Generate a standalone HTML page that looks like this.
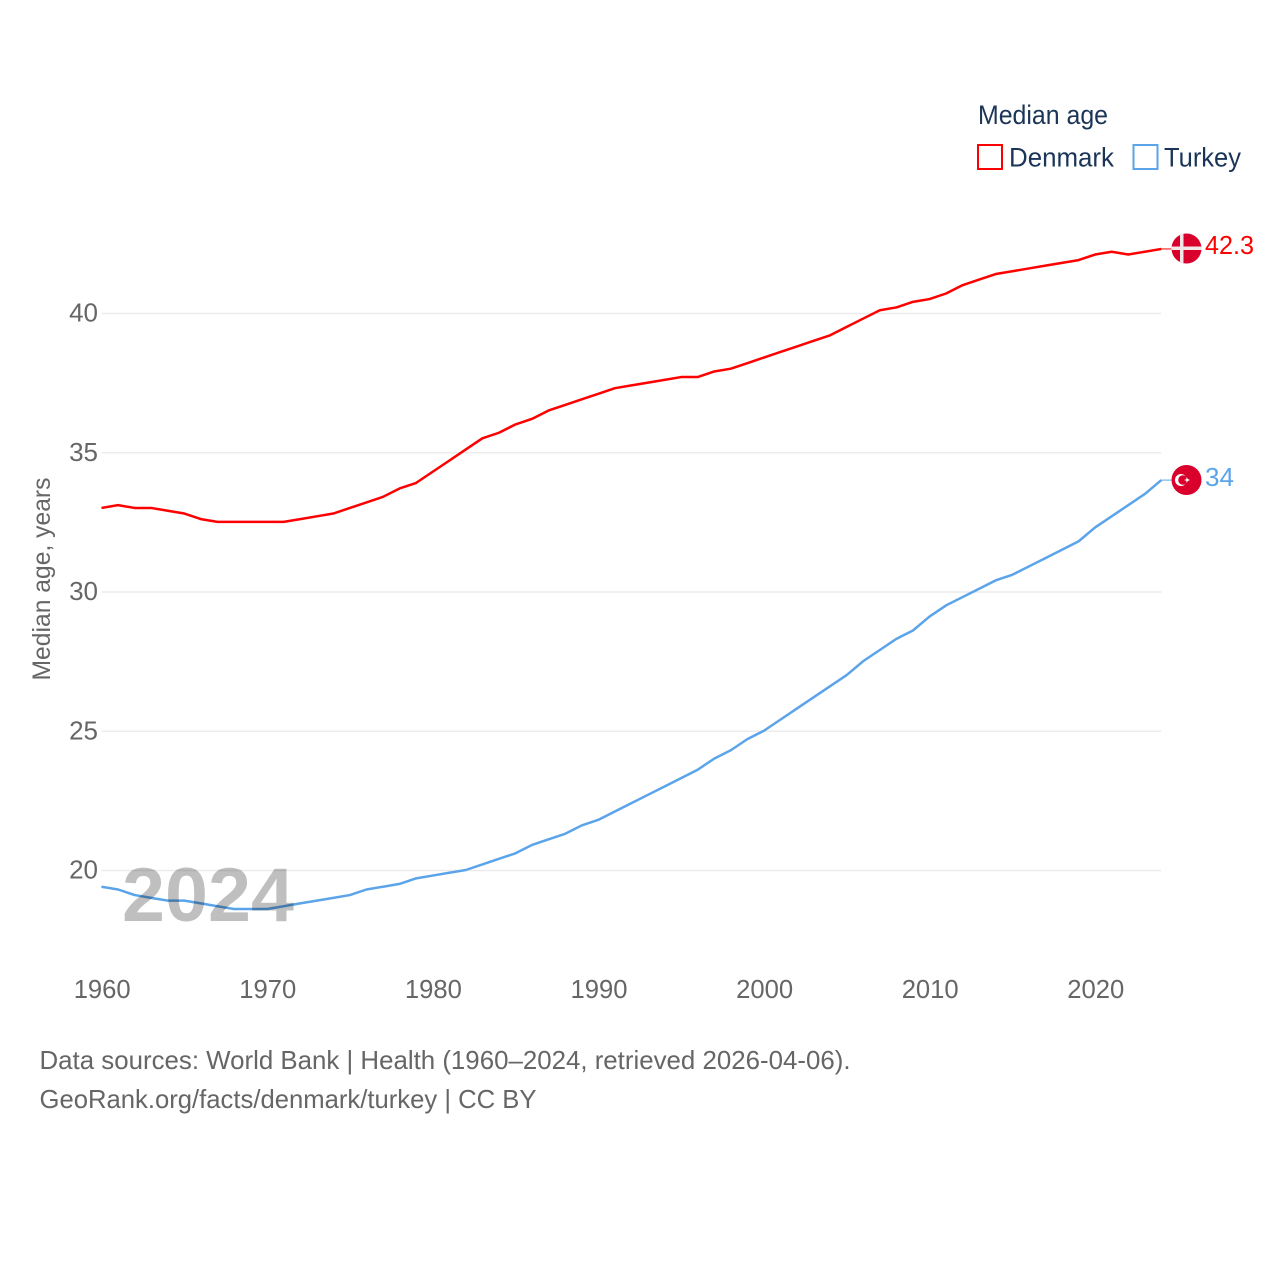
<!DOCTYPE html>
<html lang="en">
<head>
<meta charset="utf-8">
<title>Median age: Denmark and Turkey</title>
<style>
html,body{margin:0;padding:0;background:#fff;width:1280px;height:1280px;overflow:hidden}
svg{display:block}
text{font-family:"Liberation Sans",sans-serif}
.tick{font-size:26px;fill:#666}
.source{font-size:26px;fill:#666}
.legend{font-size:27px;fill:#1a3557}
</style>
</head>
<body>
<svg id="chart" xmlns="http://www.w3.org/2000/svg" width="1280" height="1280" viewBox="0 0 1280 1280">
  <g id="grid"></g>
  <g id="yticks"></g>
  <g id="xticks"></g>
  <text transform="translate(50,579) rotate(-90)" text-anchor="middle" font-size="25" fill="#666" textLength="203" lengthAdjust="spacingAndGlyphs">Median age, years</text>
  <g id="series"></g>
  <text x="122" y="921" font-size="76" font-weight="700" fill="#000" fill-opacity="0.25" textLength="172" lengthAdjust="spacingAndGlyphs">2024</text>

  <g id="flag-denmark">
    <clipPath id="dk-clip"><circle cx="1186.5" cy="248.5" r="15"></circle></clipPath>
    <circle cx="1186.5" cy="248.5" r="15" fill="#d9002b"></circle>
    <rect x="1180" y="233" width="3.5" height="31" fill="#f1e6e8" clip-path="url(#dk-clip)"></rect>
    <rect x="1171" y="246.5" width="31" height="3.5" fill="#f1e6e8" clip-path="url(#dk-clip)"></rect>
  </g>
  <text x="1205" y="254" font-size="26" fill="#ff0000" textLength="49" lengthAdjust="spacingAndGlyphs">42.3</text>

  <g id="flag-turkey">
    <circle cx="1186.5" cy="480" r="15" fill="#d9002b"></circle>
    <circle cx="1181" cy="480" r="6" fill="#fff"></circle>
    <circle cx="1183" cy="480" r="4.8" fill="#d9002b"></circle>
    <polygon points="1184,480 1186.4,480.8 1186.4,483 1187.8,481 1190,480 1187.8,479 1186.4,477 1186.4,479.2" fill="#fff"></polygon>
  </g>
  <text x="1205" y="486" font-size="26" fill="#5ba4ea" textLength="29" lengthAdjust="spacingAndGlyphs">34</text>

  <text class="legend" x="978" y="124" textLength="130" lengthAdjust="spacingAndGlyphs">Median age</text>
  <rect x="978" y="145" width="24" height="24" fill="#fff" stroke="#ff0000" stroke-width="2"></rect>
  <text class="legend" x="1009" y="166.5" textLength="105" lengthAdjust="spacingAndGlyphs">Denmark</text>
  <rect x="1133.5" y="145" width="24" height="24" fill="#fff" stroke="#5ba4ea" stroke-width="2"></rect>
  <text class="legend" x="1164" y="166.5" textLength="77" lengthAdjust="spacingAndGlyphs">Turkey</text>

  <text class="source" x="39.5" y="1069" textLength="811" lengthAdjust="spacingAndGlyphs">Data sources: World Bank | Health (1960–2024, retrieved 2026-04-06).</text>
  <text class="source" x="39.5" y="1108" textLength="497" lengthAdjust="spacingAndGlyphs">GeoRank.org/facts/denmark/turkey | CC BY</text>
</svg>
<script>
const startYear = 1960;
const yTickValues = [20, 25, 30, 35, 40];
const xTickYears = [1960, 1970, 1980, 1990, 2000, 2010, 2020];
const denmarkValues = [33.0,33.1,33.0,33.0,32.9,32.8,32.6,32.5,32.5,32.5,32.5,32.5,32.6,32.7,32.8,33.0,33.2,33.4,33.7,33.9,34.3,34.7,35.1,35.5,35.7,36.0,36.2,36.5,36.7,36.9,37.1,37.3,37.4,37.5,37.6,37.7,37.7,37.9,38.0,38.2,38.4,38.6,38.8,39.0,39.2,39.5,39.8,40.1,40.2,40.4,40.5,40.7,41.0,41.2,41.4,41.5,41.6,41.7,41.8,41.9,42.1,42.2,42.1,42.2,42.3];
const turkeyValues = [19.4,19.3,19.1,19.0,18.9,18.9,18.8,18.7,18.6,18.6,18.6,18.7,18.8,18.9,19.0,19.1,19.3,19.4,19.5,19.7,19.8,19.9,20.0,20.2,20.4,20.6,20.9,21.1,21.3,21.6,21.8,22.1,22.4,22.7,23.0,23.3,23.6,24.0,24.3,24.7,25.0,25.4,25.8,26.2,26.6,27.0,27.5,27.9,28.3,28.6,29.1,29.5,29.8,30.1,30.4,30.6,30.9,31.2,31.5,31.8,32.3,32.7,33.1,33.5,34.0];

const NS = 'http://www.w3.org/2000/svg';
const xScale = function (year) { return 101.5 + (year - 1960) * 16.56; };
const yScale = function (value) { return 870 - (value - 20) * 27.85; };
const plotRight = xScale(2024);

const gridGroup = document.getElementById('grid');
const yGroup = document.getElementById('yticks');
const xGroup = document.getElementById('xticks');
const seriesGroup = document.getElementById('series');

yTickValues.forEach(function (v) {
  const line = document.createElementNS(NS, 'line');
  
  
  line.setAttribute('x1', xScale(1960));
  line.setAttribute('x2', plotRight);
  line.setAttribute('y1', yScale(v) + 0.5);
  line.setAttribute('y2', yScale(v) + 0.5);
  line.setAttribute('stroke', '#ececec');
  line.setAttribute('stroke-width', '1.5');
  gridGroup.appendChild(line);

  const label = document.createElementNS(NS, 'text');
  
  
  label.setAttribute('class', 'tick');
  label.setAttribute('x', 98);
  label.setAttribute('y', yScale(v) + 8.5);
  label.setAttribute('text-anchor', 'end');
  label.textContent = String(v);
  yGroup.appendChild(label);
});

xTickYears.forEach(function (y) {
  const label = document.createElementNS(NS, 'text');
  
  
  label.setAttribute('class', 'tick');
  label.setAttribute('x', xScale(y) + 0.7);
  label.setAttribute('y', 998);
  label.setAttribute('text-anchor', 'middle');
  label.setAttribute('textLength', '57');
  label.setAttribute('lengthAdjust', 'spacingAndGlyphs');
  label.textContent = String(y);
  xGroup.appendChild(label);
});

function pointsFor(values) {
  return values.map(function (v, i) {
    return xScale(startYear + i).toFixed(2) + ',' + yScale(v).toFixed(2);
  }).join(' ');
}

const denmarkLine = document.createElementNS(NS, 'polyline');


denmarkLine.setAttribute('points', pointsFor(denmarkValues));
denmarkLine.setAttribute('fill', 'none');
denmarkLine.setAttribute('stroke', '#ff0000');
denmarkLine.setAttribute('stroke-width', '2.5');
denmarkLine.setAttribute('stroke-linejoin', 'round');
seriesGroup.appendChild(denmarkLine);

const turkeyLine = document.createElementNS(NS, 'polyline');


turkeyLine.setAttribute('points', pointsFor(turkeyValues));
turkeyLine.setAttribute('fill', 'none');
turkeyLine.setAttribute('stroke', '#5ba4ea');
turkeyLine.setAttribute('stroke-width', '2.5');
turkeyLine.setAttribute('stroke-linejoin', 'round');
seriesGroup.appendChild(turkeyLine);

const denmarkLeader = document.createElementNS(NS, 'line');


denmarkLeader.setAttribute('x1', plotRight);
denmarkLeader.setAttribute('x2', plotRight + 10);
denmarkLeader.setAttribute('y1', yScale(denmarkValues[denmarkValues.length - 1]));
denmarkLeader.setAttribute('y2', yScale(denmarkValues[denmarkValues.length - 1]));
denmarkLeader.setAttribute('stroke', '#ff0000');
denmarkLeader.setAttribute('stroke-width', '1');
seriesGroup.appendChild(denmarkLeader);

const turkeyLeader = document.createElementNS(NS, 'line');


turkeyLeader.setAttribute('x1', plotRight);
turkeyLeader.setAttribute('x2', plotRight + 10);
turkeyLeader.setAttribute('y1', yScale(turkeyValues[turkeyValues.length - 1]));
turkeyLeader.setAttribute('y2', yScale(turkeyValues[turkeyValues.length - 1]));
turkeyLeader.setAttribute('stroke', '#5ba4ea');
turkeyLeader.setAttribute('stroke-width', '1');
seriesGroup.appendChild(turkeyLeader);
</script>
</body>
</html>
